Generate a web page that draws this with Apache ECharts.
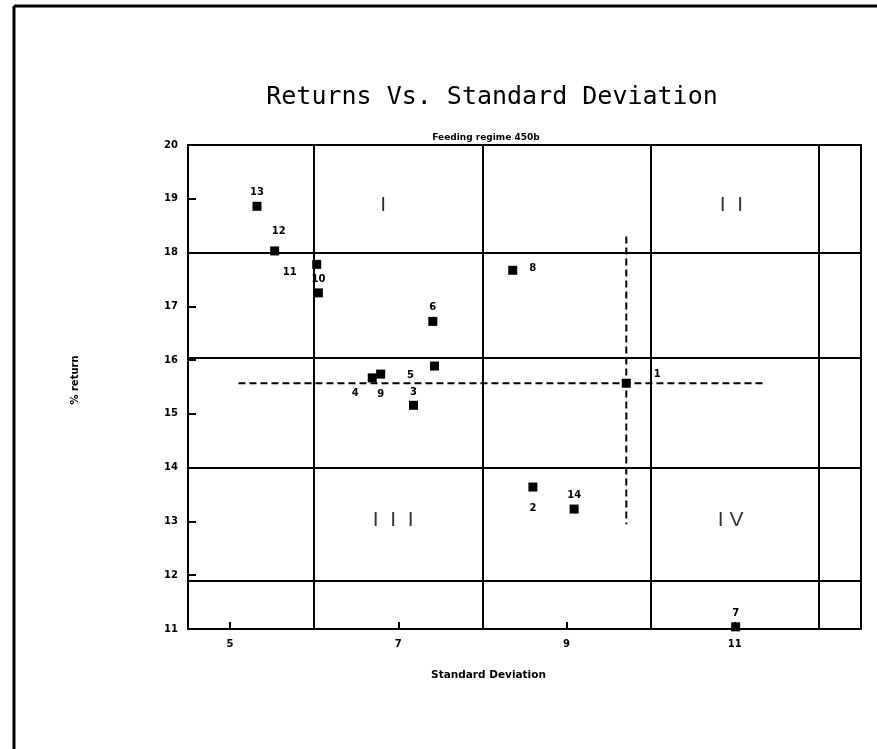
<!DOCTYPE html>
<html>
<head>
<meta charset="utf-8">
<script src="https://cdn.jsdelivr.net/npm/echarts@6/dist/echarts.min.js"></script>
<style>
html,body{margin:0;padding:0;background:#fff;}
#chart{width:877px;height:749px;}
</style>
</head>
<body>
<div id="chart"></div>
<script>
// ---- data ----
var pointIds = ['1','2','3','4','5','6','7','8','9','10','11','12','13','14'];
var stdDev   = [9.71, 8.60, 7.18, 6.69, 7.43, 7.41, 11.01, 8.36, 6.79, 6.05, 6.03, 5.53, 5.32, 9.09];
var returns  = [15.57, 13.64, 15.16, 15.67, 15.89, 16.72, 11.04, 17.67, 15.74, 17.25, 17.78, 18.03, 18.86, 13.23];

var xTicks = [5, 7, 9, 11];
var yTicks = [11, 12, 13, 14, 15, 16, 17, 18, 19, 20];

var vDividers = [6, 8, 10, 12];
var hDividers = [18, 16.05, 14, 11.9];

var dashH = [[5.1, 15.57], [11.37, 15.57]];
var dashV = [[9.71, 18.3], [9.71, 12.95]];

var quadNames = ['I', 'I  I', 'I  I  I', 'I V'];
var quadX = [6.82, 10.96, 6.94, 10.95];
var quadY = [18.88, 18.88, 13.03, 13.03];

// label offsets (styling)
var labelOffsets = {
  '1': [31, -9], '2': [0, 21], '3': [0, -13], '4': [-17, 16], '5': [-24, 9],
  '6': [0, -14], '7': [0, -13], '8': [20, -2], '9': [0, 20], '10': [0, -13],
  '11': [-27, 8], '12': [4, -20], '13': [0, -14], '14': [0, -14]
};

var pts = pointIds.map(function (id, i) {
  return {
    value: [stdDev[i], returns[i]],
    name: id,
    label: { offset: labelOffsets[id] }
  };
});

var quadData = quadNames.map(function (n, i) { return { value: [quadX[i], quadY[i]], name: n }; });

var lineStyleDiv = { color: '#000', width: 2, type: 'solid' };
var markData = vDividers.map(function (v) { return { xAxis: v }; })
  .concat(hDividers.map(function (v) { return { yAxis: v }; }));

var chart = echarts.init(document.getElementById('chart'), null, { renderer: 'canvas' });
var tickFont = { fontFamily: 'DejaVu Sans', fontWeight: 'bold', fontSize: 10, color: '#000' };

chart.setOption({
  animation: false,
  backgroundColor: '#fff',
  grid: { left: 188, right: 16, top: 145, bottom: 120, show: true, borderColor: '#000', borderWidth: 2, backgroundColor: 'transparent' },
  graphic: [
    { type: 'line', shape: { x1: 14, y1: 6, x2: 877, y2: 6 }, style: { stroke: '#000', lineWidth: 3 } },
    { type: 'line', shape: { x1: 14, y1: 6, x2: 14, y2: 749 }, style: { stroke: '#000', lineWidth: 3 } },
    { type: 'text', x: 492, y: 97, style: { text: 'Returns Vs. Standard Deviation', font: '25px "DejaVu Sans Mono"', fill: '#000', textAlign: 'center', textVerticalAlign: 'middle' } },
    { type: 'text', x: 486, y: 138, style: { text: 'Feeding regime 450b', font: 'bold 9px "DejaVu Sans"', fill: '#000', textAlign: 'center', textVerticalAlign: 'middle' } }
  ],
  xAxis: {
    type: 'value', min: 4.5, max: 12.5,
    name: 'Standard Deviation', nameLocation: 'middle', nameGap: 41,
    nameTextStyle: { fontFamily: 'DejaVu Sans', fontWeight: 'bold', fontSize: 10.5, color: '#000', padding: [0, 72, 0, 0] },
    axisLine: { show: true, lineStyle: { color: '#000', width: 2 } },
    axisTick: { show: true, inside: true, length: 7, customValues: xTicks, lineStyle: { color: '#000', width: 2 } },
    axisLabel: Object.assign({ customValues: xTicks, margin: 10 }, tickFont),
    splitLine: { show: false }
  },
  yAxis: {
    type: 'value', min: 11, max: 20, interval: 1,
    name: '% return', nameLocation: 'middle', nameGap: 108,
    nameTextStyle: { fontFamily: 'DejaVu Sans', fontWeight: 'bold', fontSize: 10, color: '#000', padding: [0, 0, 0, 14] },
    axisLine: { show: true, lineStyle: { color: '#000', width: 2 } },
    axisTick: { show: true, inside: true, length: 8, lineStyle: { color: '#000', width: 2 } },
    axisLabel: Object.assign({ margin: 10 }, tickFont),
    splitLine: { show: false }
  },
  series: [
    {
      type: 'line', data: [], silent: true,
      markLine: { symbol: 'none', silent: true, label: { show: false }, lineStyle: lineStyleDiv, data: markData, animation: false }
    },
    {
      type: 'line', data: dashH, symbol: 'none', silent: true,
      lineStyle: { color: '#000', width: 2, type: [7, 4] }
    },
    {
      type: 'line', data: dashV, symbol: 'none', silent: true,
      lineStyle: { color: '#000', width: 2, type: [7, 4] }
    },
    {
      type: 'scatter', data: quadData, symbolSize: 0, silent: true,
      label: { show: true, position: 'inside', formatter: '{b}', fontFamily: 'Liberation Sans', fontSize: 21, color: '#000' }
    },
    {
      type: 'scatter', data: pts, symbol: 'rect', symbolSize: 9, clip: false,
      itemStyle: { color: '#000', opacity: 1 },
      label: { show: true, position: 'inside', formatter: '{b}', fontFamily: 'DejaVu Sans', fontWeight: 'bold', fontSize: 10, color: '#000' }
    }
  ]
});
</script>
</body>
</html>
